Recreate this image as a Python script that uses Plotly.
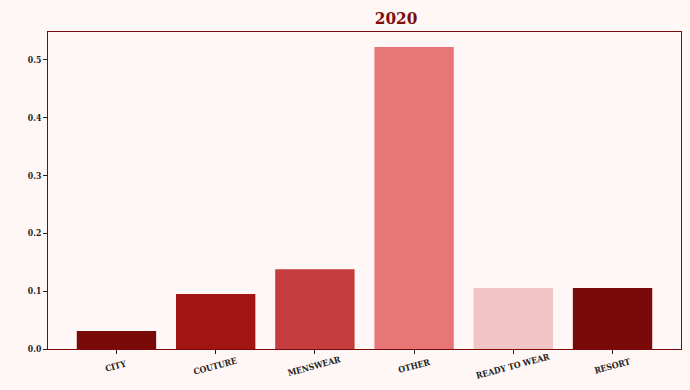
import plotly.graph_objects as go

categories = ["CITY", "COUTURE", "MENSWEAR", "OTHER", "READY TO WEAR", "RESORT"]
values = [0.031, 0.095, 0.138, 0.5225, 0.1055, 0.1055]
colors = ["#7A0A0A", "#A31515", "#C43C3C", "#E87676", "#F2C4C4", "#7A0A0A"]
title = "2020"
ytickvals = [0.0, 0.1, 0.2, 0.3, 0.4, 0.5]
yticktext = ["0.0", "0.1", "0.2", "0.3", "0.4", "0.5"]

bg = "#FFF7F5"
dark = "#7A0A0A"
font_fam = "DejaVu Serif Condensed, Liberation Serif, serif"
tickfont = dict(family=font_fam, size=8.6, color="#222", weight="bold")

fig = go.Figure(go.Bar(
    x=list(range(len(categories))), y=values, marker_color=colors,
    marker_line_width=0, width=0.8,
))
for i, c in enumerate(categories):
    fig.add_annotation(
        x=i, xref="x", y=0, yref="paper", yshift=-17, text=c, showarrow=False,
        textangle=-15, xanchor="center", yanchor="middle", font=tickfont,
    )
fig.update_layout(
    width=690, height=390,
    paper_bgcolor=bg, plot_bgcolor=bg,
    margin=dict(l=48, r=9, t=32, b=41, autoexpand=False),
    showlegend=False,
    title=dict(text=title, x=0.574, xanchor="center", y=0.955, yanchor="middle",
               font=dict(family="DejaVu Serif Condensed, serif", size=17, color="#800D0D", weight="bold")),
    font=dict(family=font_fam, size=8.6, color="#222"),
)
fig.update_xaxes(
    range=[-0.69, 5.69], tickvals=list(range(len(categories))), showticklabels=False,
    ticks="outside", ticklen=4, tickcolor="#222", automargin=False,
    showline=True, linecolor=dark, linewidth=1, mirror=True,
    showgrid=False, zeroline=False,
)
fig.update_yaxes(
    range=[0, 0.5484], tickvals=ytickvals, ticktext=yticktext,
    ticks="outside", ticklen=4, tickcolor="#222", automargin=False,
    showline=True, linecolor=dark, linewidth=1, mirror=True,
    showgrid=False, zeroline=False,
    tickfont=tickfont,
)
fig.write_html("out.html")
